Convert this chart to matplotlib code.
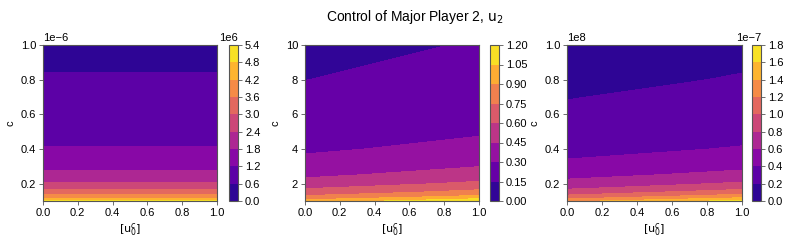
import numpy as np
import matplotlib.pyplot as plt

plt.rcParams['font.family'] = ['Liberation Sans', 'DejaVu Sans']
plt.rcParams['font.size'] = 8

# grid columns: u0 at x = 0 and x = 1
u0 = [0.0, 1.0]

# panel 1 (c in 1e-6, u2 in 1e6)
c1 = [0.10, 0.11, 0.12, 0.13, 0.14, 0.16, 0.18, 0.20, 0.25, 0.30, 0.40, 0.50, 0.60, 0.80, 1.00]
u2_1_left = [5.00, 4.55, 4.17, 3.85, 3.57, 3.13, 2.78, 2.50, 2.00, 1.67, 1.25, 1.00, 0.83, 0.63, 0.50]
u2_1_right = [5.00, 4.55, 4.17, 3.85, 3.57, 3.13, 2.78, 2.50, 2.00, 1.67, 1.25, 1.00, 0.83, 0.63, 0.50]
levels1 = [0.0, 0.6, 1.2, 1.8, 2.4, 3.0, 3.6, 4.2, 4.8, 5.4]

# panel 2
c2 = [1.0, 1.25, 1.5, 2.0, 2.5, 3.0, 4.0, 5.0, 6.0, 8.0, 10.0]
u2_2_left = [0.950, 0.779, 0.662, 0.513, 0.420, 0.357, 0.277, 0.227, 0.193, 0.149, 0.122]
u2_2_right = [1.170, 0.940, 0.800, 0.630, 0.520, 0.447, 0.345, 0.284, 0.244, 0.190, 0.156]
levels2 = [0.0, 0.15, 0.30, 0.45, 0.60, 0.75, 0.90, 1.05, 1.20]

# panel 3 (c in 1e8, u2 in 1e-7)
c3 = [0.10, 0.11, 0.12, 0.13, 0.14, 0.16, 0.18, 0.20, 0.25, 0.30, 0.40, 0.50, 0.60, 0.80, 1.00]
u2_3_left = [1.34, 1.218, 1.117, 1.031, 0.957, 0.838, 0.744, 0.670, 0.536, 0.447, 0.335, 0.268, 0.223, 0.168, 0.134]
u2_3_right = [1.66, 1.509, 1.383, 1.277, 1.186, 1.038, 0.922, 0.830, 0.664, 0.553, 0.415, 0.332, 0.277, 0.208, 0.166]
levels3 = [0.0, 0.2, 0.4, 0.6, 0.8, 1.0, 1.2, 1.4, 1.6, 1.8]

panels = [
    (c1, u2_1_left, u2_1_right, levels1, 1e-6, 1e6),
    (c2, u2_2_left, u2_2_right, levels2, 1.0, 1.0),
    (c3, u2_3_left, u2_3_right, levels3, 1e8, 1e-7),
]

W, H = 789, 241
fig = plt.figure(figsize=(W / 100, H / 100), dpi=100)
ax_x = [(43, 174, 229), (305, 174, 490), (567, 175, 752)]
edge = '#555555'

for (c, left, right, lev, cs, vs), (x0, w, cx) in zip(panels, ax_x):
    ax = fig.add_axes([x0 / W, 40 / H, w / W, 156 / H])
    cax = fig.add_axes([cx / W, 40 / H, 9 / W, 156 / H])
    X, Y = np.meshgrid(u0, np.array(c) * cs)
    Z = np.column_stack([left, right]) * vs
    cf = ax.contourf(X, Y, Z, levels=np.array(lev) * vs, cmap='plasma')
    cb = fig.colorbar(cf, cax=cax)
    if lev is levels2:
        cb.ax.yaxis.set_major_formatter(plt.FormatStrFormatter('%.2f'))
    cb.outline.set_edgecolor(edge)
    cb.outline.set_linewidth(0.8)
    cb.ax.tick_params(length=3, width=0.6, color=edge, pad=2)
    ax.set_xlabel(r'$[\mathrm{u}_0^c]$', labelpad=2)
    ax.set_ylabel('c', labelpad=4)
    ax.set_xticks([0.0, 0.2, 0.4, 0.6, 0.8, 1.0])
    ax.tick_params(length=3, width=0.6, color=edge, pad=2)
    for s in ax.spines.values():
        s.set_edgecolor(edge)
        s.set_linewidth(0.8)

fig.suptitle(r'Control of Major Player 2, $\mathrm{u}_2$', x=0.525, y=0.965, fontsize=10)
fig.savefig('out.png', dpi=100)
